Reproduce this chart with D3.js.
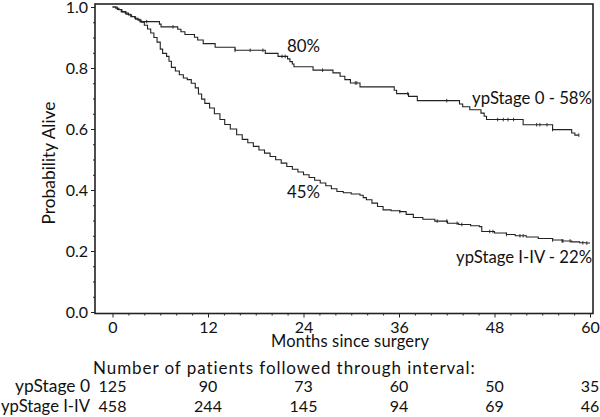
<!DOCTYPE html>
<html><head><meta charset="utf-8">
<script src="https://cdn.jsdelivr.net/npm/d3@7"></script>
<style>
body{margin:0;background:#fff}
svg{display:block}
text{font-family:Lato,"Open Sans",sans-serif;fill:#111}
</style>
</head><body>
<svg id="c" width="600" height="417"></svg>
<script>
// ---- data ----
const xTicks = [0, 12, 24, 36, 48, 60];
const yTicks = [0, 0.2, 0.4, 0.6, 0.8, 1.0];

const stage0Times = [0, 0.6, 1.1, 1.7, 2.3, 2.9, 3.45, 5.9, 6.1, 8.2, 8.6, 9.1, 10.3, 10.7, 11.4, 12.9, 15.4, 19.2, 20.8, 22.0, 22.3, 22.6, 22.8, 25.2, 27.7, 28.6, 29.2, 29.9, 31.1, 35.4, 35.7, 37.2, 38.3, 43.6, 44.0, 44.9, 46.3, 46.7, 47.0, 51.6, 55.3, 57.7, 58.1, 58.6];
const stage0Surv  = [1.0, 0.992, 0.984, 0.976, 0.968, 0.960, 0.952, 0.944, 0.935, 0.927, 0.919, 0.910, 0.901, 0.892, 0.880, 0.868, 0.858, 0.848, 0.838, 0.830, 0.821, 0.813, 0.804, 0.793, 0.784, 0.773, 0.762, 0.751, 0.738, 0.727, 0.716, 0.707, 0.693, 0.682, 0.673, 0.663, 0.652, 0.642, 0.631, 0.614, 0.598, 0.587, 0.580, 0.580];
const stage0Censor = [4.3, 7.6, 15.4, 17.3, 18.9, 21.3, 21.7, 26.4, 30.5, 30.7, 37.1, 42.0, 48.4, 49.1, 49.7, 50.4, 53.3, 53.7, 54.6, 55.3, 58.6];

const stageIIVTimes = [0, 0.4, 0.8, 1.2, 1.6, 2.0, 2.4, 2.8, 3.2, 3.6, 4.0, 4.4, 4.8, 5.2, 5.6, 6.0, 6.3, 6.8, 7.1, 7.4, 7.9, 8.4, 8.9, 9.4, 9.9, 10.4, 10.8, 11.2, 11.6, 12.2, 12.8, 13.5, 14.1, 14.8, 15.6, 16.3, 17.0, 17.7, 18.4, 19.1, 19.8, 20.5, 21.2, 21.9, 22.6, 23.3, 24.0, 24.7, 25.4, 26.1, 26.8, 27.5, 28.2, 29.0, 30.0, 31.1, 31.5, 31.9, 32.6, 33.3, 34.0, 35.0, 36.1, 36.9, 37.8, 39.0, 40.5, 42.1, 43.5, 45.0, 46.1, 46.4, 48.0, 49.5, 50.6, 52.0, 53.5, 55.3, 56.5, 57.7, 58.7, 59.5, 60.0];
const stageIIVSurv  = [1.0, 0.996, 0.991, 0.985, 0.980, 0.974, 0.969, 0.963, 0.957, 0.950, 0.940, 0.928, 0.915, 0.900, 0.885, 0.862, 0.848, 0.838, 0.822, 0.802, 0.790, 0.778, 0.767, 0.762, 0.750, 0.735, 0.715, 0.698, 0.684, 0.669, 0.650, 0.631, 0.615, 0.600, 0.581, 0.566, 0.555, 0.543, 0.531, 0.521, 0.510, 0.499, 0.488, 0.477, 0.468, 0.459, 0.450, 0.441, 0.432, 0.423, 0.414, 0.404, 0.395, 0.391, 0.387, 0.383, 0.375, 0.368, 0.357, 0.346, 0.335, 0.332, 0.329, 0.320, 0.310, 0.304, 0.298, 0.291, 0.287, 0.283, 0.280, 0.264, 0.259, 0.254, 0.250, 0.246, 0.241, 0.236, 0.233, 0.230, 0.227, 0.226, 0.226];
const stageIIVCensor = [36.1, 40.8, 42.0, 43.3, 43.9, 47.4, 47.8, 49.5, 51.2, 51.6, 55.3, 56.5, 56.6, 57.5, 59.1, 59.6];

const riskGroups = ["ypStage 0", "ypStage I-IV"];
const riskStage0 = [125, 90, 73, 60, 50, 35];
const riskStageIIV = [458, 244, 145, 94, 69, 46];

// ---- chart ----
const svg = d3.select("#c");
const x = d3.scaleLinear().domain([0, 60]).range([112.5, 590]);
const y = d3.scaleLinear().domain([0, 1]).range([312, 7]);
const frame = {l: 95, r: 593, t: 4, b: 313.5};
const ink = "#222";

// scale a text's font so its width matches the reference width
function fit(sel, target) {
  const fs = parseFloat(sel.attr("font-size"));
  const w = sel.node().getComputedTextLength();
  if (w > 0) sel.attr("font-size", (fs * target / w).toFixed(2));
  return sel;
}
// widen a text with letter spacing to the reference width
function spread(sel, target) {
  const w = sel.node().getComputedTextLength();
  const n = sel.text().length;
  if (w > 0 && n > 1) sel.attr("letter-spacing", ((target - w) / (n - 1)).toFixed(3));
  return sel;
}

// frame
svg.append("rect").attr("x", frame.l).attr("y", frame.t)
  .attr("width", frame.r - frame.l).attr("height", frame.b - frame.t)
  .attr("fill", "none").attr("stroke", ink).attr("stroke-width", 1.6);

// y axis
const yMinor = d3.range(0, 1.0001, 0.05).filter(v => !yTicks.some(t => Math.abs(t - v) < 1e-6));
const gy = svg.append("g").attr("transform", `translate(${frame.l},0)`);
gy.call(d3.axisLeft(y).tickValues(yTicks).tickFormat(d3.format(".1f")).tickSize(4).tickPadding(3));
const gyMinor = svg.append("g").attr("transform", `translate(${frame.l},0)`);
gyMinor.call(d3.axisLeft(y).tickValues(yMinor).tickFormat("").tickSize(2));
[gy, gyMinor].forEach(g => { g.select(".domain").remove(); g.selectAll("line").attr("stroke", ink); });
gy.selectAll("text").attr("font-size", 16).attr("fill", "#111").style("font-family", "Lato");

// x axis
const xMinor = d3.range(0, 60.001, 2).filter(v => v % 12 !== 0);
const gx = svg.append("g").attr("transform", `translate(0,${frame.b})`);
gx.call(d3.axisBottom(x).tickValues(xTicks).tickSize(4).tickPadding(4));
const gxMinor = svg.append("g").attr("transform", `translate(0,${frame.b})`);
gxMinor.call(d3.axisBottom(x).tickValues(xMinor).tickFormat("").tickSize(2));
[gx, gxMinor].forEach(g => { g.select(".domain").remove(); g.selectAll("line").attr("stroke", ink); });
gx.selectAll("text").attr("font-size", 16).attr("fill", "#111").style("font-family", "Lato");

// axis titles
fit(svg.append("text").attr("transform", "translate(55,163) rotate(-90)")
  .attr("text-anchor", "middle").attr("font-size", 16).text("Probability Alive"), 123);
spread(svg.append("text").attr("x", 350).attr("y", 347).attr("text-anchor", "middle")
  .attr("font-size", 16.5).text("Months since surgery"), 158);

// curves
const line = d3.line().x(d => x(d[0])).y(d => y(d[1])).curve(d3.curveStepAfter);
function series(times, surv) { return times.map((t, i) => [t, surv[i]]); }
function survAt(times, surv, t) { const i = d3.bisectRight(times, t) - 1; return surv[Math.max(0, i)]; }

const groups = [
  {times: stageIIVTimes, surv: stageIIVSurv, cens: stageIIVCensor},
  {times: stage0Times, surv: stage0Surv, cens: stage0Censor}
];
groups.forEach(gd => {
  svg.append("path").datum(series(gd.times, gd.surv)).attr("d", line)
    .attr("fill", "none").attr("stroke", ink).attr("stroke-width", 1.1);
  svg.append("g").selectAll("line").data(gd.cens).join("line")
    .attr("x1", d => x(d)).attr("x2", d => x(d))
    .attr("y1", d => y(survAt(gd.times, gd.surv, d)) - 1.8)
    .attr("y2", d => y(survAt(gd.times, gd.surv, d)) + 1.8)
    .attr("stroke", ink).attr("stroke-width", 0.9);
});

// annotations
fit(svg.append("text").attr("x", x(24)).attr("y", 52).attr("text-anchor", "middle").attr("font-size", 16).text("80%"), 33);
fit(svg.append("text").attr("x", x(24)).attr("y", 198).attr("text-anchor", "middle").attr("font-size", 16).text("45%"), 33);
fit(svg.append("text").attr("x", 592).attr("y", 104).attr("text-anchor", "end").attr("font-size", 16).text("ypStage 0 - 58%"), 120);
fit(svg.append("text").attr("x", 592).attr("y", 263).attr("text-anchor", "end").attr("font-size", 16).text("ypStage I-IV - 22%"), 136);

// risk table
spread(svg.append("text").attr("x", 93).attr("y", 374).attr("font-size", 17).text("Number of patients followed through interval:"), 382);
const rows = [riskStage0, riskStageIIV];
const rowY = [392, 412];
const rowW = [75, 89];
rows.forEach((vals, r) => {
  fit(svg.append("text").attr("x", 90).attr("y", rowY[r]).attr("text-anchor", "end").attr("font-size", 16).text(riskGroups[r]), rowW[r]);
  svg.append("g").selectAll("text").data(vals).join("text")
    .attr("x", (d, i) => x(xTicks[i])).attr("y", rowY[r]).attr("text-anchor", "middle")
    .attr("font-size", 16).text(d => d);
});
</script>
</body></html>
